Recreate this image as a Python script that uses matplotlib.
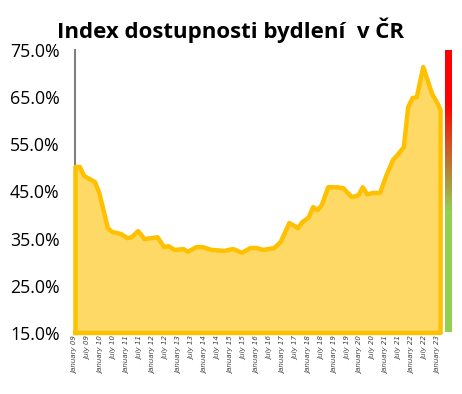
import matplotlib
matplotlib.use("Agg")
import matplotlib.pyplot as plt
import numpy as np
from matplotlib.colors import LinearSegmentedColormap

# months since January 2009
months = [0, 2, 4, 9, 11, 13, 15, 17, 21, 24, 26, 29, 32, 38, 41, 43, 46, 50, 52, 56,
          59, 63, 69, 73, 77, 81, 84, 87, 92, 95, 99, 101, 103, 105, 108, 110, 112, 114,
          117, 121, 124, 126, 128, 131, 133, 135, 138, 141, 144, 147, 149, 152, 154, 156,
          158, 161, 165, 168, 169]
values = [50.2, 50.2, 48.3, 47.0, 44.7, 41.0, 37.2, 36.4, 36.0, 35.1, 35.3, 36.6, 34.9,
          35.3, 33.2, 33.4, 32.6, 32.8, 32.2, 33.2, 33.2, 32.6, 32.4, 32.8, 32.0, 33.0,
          33.0, 32.6, 33.0, 34.3, 38.3, 37.8, 37.2, 38.5, 39.5, 41.7, 41.0, 42.1, 45.9,
          45.9, 45.7, 44.7, 43.8, 44.2, 45.9, 44.4, 44.7, 44.7, 48.5, 51.7, 52.7, 54.4,
          62.9, 64.8, 65.0, 71.4, 65.8, 63.3, 62.2]

years = list(range(2009, 2024))
tick_months = []
tick_labels = []
for i, y in enumerate(years):
    tick_months.append(i * 12)
    tick_labels.append(f"January {y % 100:02d}")
    if y < 2023:
        tick_months.append(i * 12 + 6)
        tick_labels.append(f"July {y % 100:02d}")

y_ticks = [15, 25, 35, 45, 55, 65, 75]
title = "Index dostupnosti bydlení  v ČR"

fig = plt.figure(figsize=(4.62, 3.94), dpi=100)
ax = fig.add_axes([0.162, 0.155, 0.793, 0.718])

x = np.array(months, dtype=float)
v = np.array(values)
base = 15
ax.fill_between(x, v, base, color="#FFD966", zorder=2, linewidth=0)
px = np.concatenate([[x[0]], x, [x[-1]], [x[0]]])
py = np.concatenate([[base], v, [base], [base]])
ax.plot(px, py, color="#FFC000", lw=3.2, solid_joinstyle="round", zorder=3, clip_on=False)

ax.set_xlim(-0.3, 169.3)
ax.set_ylim(15, 75)
ax.set_yticks(y_ticks)
ax.set_yticklabels([f"{t:.1f}%" for t in y_ticks], fontsize=12.8, family="Open Sans")
ax.set_xticks(tick_months)
ax.set_xticklabels(tick_labels, rotation=90, fontsize=5, family="DejaVu Sans",
                   color="#404040", style="italic")
ax.tick_params(axis="both", length=0, pad=2)
ax.tick_params(axis="y", pad=11)
for s in ["top", "right"]:
    ax.spines[s].set_visible(False)
ax.spines["left"].set_color("#808080")
ax.spines["left"].set_linewidth(1.5)
ax.spines["bottom"].set_color("#808080")
ax.spines["bottom"].set_linewidth(1.5)

fig.text(0.498, 0.922, title, ha="center", va="center", fontsize=16,
         fontweight="bold", family="Open Sans")

# color bar
cax = fig.add_axes([445 / 462, 1 - 332 / 394, 7 / 462, 282 / 394])
cmap = LinearSegmentedColormap.from_list(
    "rg", [(0, "#92D050"), (0.43, "#92D050"), (0.56, "#B08A3A"), (0.68, "#D84A20"),
           (0.81, "#FF0000"), (1, "#FF0000")])
grad = np.linspace(0, 1, 256).reshape(-1, 1)
cax.imshow(grad, aspect="auto", cmap=cmap, origin="lower")
cax.axis("off")

fig.savefig("out.png", dpi=100)
